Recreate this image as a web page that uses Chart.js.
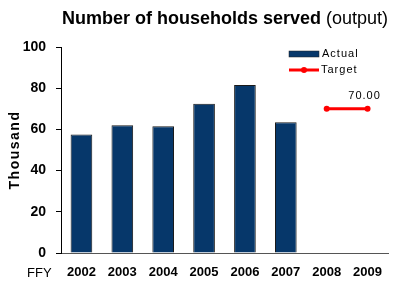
<!DOCTYPE html>
<html lang="en">
<head>
<meta charset="UTF-8">
<title>Number of households served</title>
<script src="https://cdn.jsdelivr.net/npm/chart.js@4"></script>
<style>
  html, body { margin: 0; padding: 0; background: #fff; }
  #wrap { width: 395px; height: 282px; position: relative; }
</style>
</head>
<body>
<div id="wrap"><canvas id="chart" width="395" height="282"></canvas></div>
<script>
var years = ["2002", "2003", "2004", "2005", "2006", "2007", "2008", "2009"];
var actual = [57.5, 62, 61.5, 72.5, 81.5, 63.5, null, null];
var target = [null, null, null, null, null, null, 70, 70];
var yTicks = [0, 20, 40, 60, 80, 100];

var FONT = "'Liberation Sans', Arial, sans-serif";
var NAVY = "#06376a";
var RED = "#ff0000";

// title, axis title, legend, FFY label and the target value
var decor = {
    id: "decor",
    afterDraw: function(chart) {
        var ctx = chart.ctx;
        ctx.save();
        ctx.fillStyle = "#000";
        ctx.textBaseline = "middle";
        ctx.textAlign = "left";

        // title: bold part + normal part
        var t1 = "Number of households served", t2 = " (output)";
        ctx.font = "bold 18px " + FONT;
        var w1 = ctx.measureText(t1).width;
        ctx.fillText(t1, 62, 19);
        ctx.font = "18px " + FONT;
        ctx.fillText(t2, 62 + w1, 19);

        // FFY
        ctx.font = "13px " + FONT;
        ctx.fillText("FFY", 27, 273);

        // y axis title, rotated, spaced letters
        var y = chart.scales.y;
        ctx.save();
        ctx.translate(15, (y.top + y.bottom) / 2);
        ctx.rotate(-Math.PI / 2);
        ctx.textAlign = "center";
        ctx.font = "bold 14px " + FONT;
        if (ctx.letterSpacing !== undefined) ctx.letterSpacing = "1.5px";
        ctx.fillText("Thousand", 0, 0);
        ctx.restore();

        // legend
        var ds = chart.data.datasets;
        ctx.font = "11px " + FONT;
        if (ctx.letterSpacing !== undefined) ctx.letterSpacing = "1px";
        ctx.fillStyle = ds[0].backgroundColor;
        ctx.fillRect(289, 51, 30, 6);
        ctx.strokeStyle = "#222";
        ctx.lineWidth = 0.5;
        ctx.strokeRect(289, 51, 30, 6);
        ctx.fillStyle = "#000";
        ctx.fillText(ds[0].label, 322, 54);

        ctx.strokeStyle = ds[1].borderColor;
        ctx.lineWidth = 3;
        ctx.beginPath();
        ctx.moveTo(289, 70);
        ctx.lineTo(319, 70);
        ctx.stroke();
        ctx.fillStyle = ds[1].borderColor;
        ctx.beginPath();
        ctx.arc(304, 70, 3, 0, Math.PI * 2);
        ctx.fill();
        ctx.fillStyle = "#000";
        ctx.fillText(ds[1].label, 321, 70);

        // value label for the target
        var meta = chart.getDatasetMeta(1);
        var last = meta.data[7];
        ctx.textAlign = "center";
        ctx.font = "11px " + FONT;
        ctx.fillText(target[7].toFixed(2), last.x - 3, last.y - 13);
        ctx.restore();
    }
};

new Chart(document.getElementById("chart").getContext("2d"), {
    type: "bar",
    data: {
        labels: years,
        datasets: [
            {
                label: "Actual",
                data: actual,
                backgroundColor: NAVY,
                borderColor: "#1a1a1a",
                borderWidth: 1,
                barPercentage: 0.53,
                categoryPercentage: 1.0,
                order: 2
            },
            {
                type: "line",
                label: "Target",
                data: target,
                borderColor: RED,
                backgroundColor: RED,
                borderWidth: 3,
                pointRadius: 3,
                pointBackgroundColor: RED,
                pointBorderWidth: 0,
                spanGaps: false,
                order: 1
            }
        ]
    },
    plugins: [decor],
    options: {
        responsive: false,
        animation: false,
        layout: { padding: { left: 0, right: 7, top: 47, bottom: 0 } },
        plugins: {
            legend: { display: false },
            title: { display: false },
            tooltip: { enabled: false }
        },
        scales: {
            x: {
                grid: { display: false, drawTicks: false },
                border: { display: true, color: "#555", width: 1 },
                ticks: {
                    color: "#000",
                    font: { family: FONT, size: 13, weight: "bold" },
                    padding: 12,
                    maxRotation: 0,
                    autoSkip: false
                },
                afterFit: function(s) { s.height = 29; }
            },
            y: {
                min: 0,
                max: 100,
                afterBuildTicks: function(s) {
                    s.ticks = yTicks.map(function(v) { return { value: v }; });
                },
                grid: {
                    display: true,
                    drawOnChartArea: false,
                    drawTicks: true,
                    tickLength: 5,
                    color: "#000"
                },
                border: { display: true, color: "#000", width: 1 },
                ticks: {
                    color: "#000",
                    font: { family: FONT, size: 14, weight: "bold" },
                    padding: 10
                },
                afterFit: function(s) { s.width = 61; }
            }
        }
    }
});
</script>
</body>
</html>
